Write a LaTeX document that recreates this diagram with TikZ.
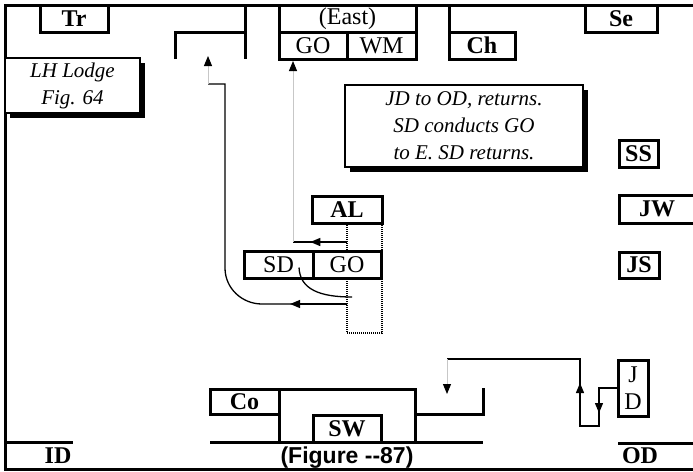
\documentclass[tikz,border=0pt]{standalone}
\usepackage{fontspec}
\setmainfont{Liberation Serif}
\setsansfont{Liberation Sans}
\usetikzlibrary{positioning,arrows.meta,calc,shadows}
\tikzset{
  lodge/.style={x=1pt,y=-1pt,>={Triangle[width=8pt,length=10pt]},
    every node/.style={inner sep=0pt,outer sep=0pt}},
  lbl/.style={draw,line width=3pt,fill=white,minimum height=27pt,
    font=\fontsize{24}{27}\selectfont\bfseries},
  plain/.style={lbl,font=\fontsize{24}{27}\selectfont},
  note/.style={draw,line width=2pt,fill=white,align=center,
    general shadow={fill=black,shadow xshift=5pt,shadow yshift=-5pt},
    font=\fontsize{21}{27}\selectfont\itshape},
  wall/.style={line width=3pt},
  flow/.style={line width=1.3pt},
  ghost/.style={line width=1pt,draw=black!22,
    -{Triangle[width=8pt,length=10pt,color=black]}},
  dotbox/.style={line width=2pt,dash pattern=on 1pt off 1pt},
}

\begin{document}
\begin{tikzpicture}[lodge]
  \useasboundingbox (0,0) rectangle (693,471);
  % walls
  \draw[wall] (693,5) -- (5,5) -- (5,469) -- (693,469);
  \draw[wall] (175,59) -- (175,32) -- (245,32);
  \draw[wall] (245,5) -- (245,59);
  \draw[wall] (449,5) -- (449,32);

  % east
  \node[lbl,minimum width=68pt] (tr) at (74,18.5) {Tr};
  \node[lbl,minimum width=72pt] (se) at (621,18.5) {Se};
  \node[plain,minimum width=137pt] (east) at (347.5,18.5) {(East)};
  \node[plain,minimum width=68pt] (gotop) at (313,45.5) {GO};
  \node[plain,minimum width=69pt] (wm) [right=0pt of gotop] {WM};
  \node[lbl,minimum width=66pt] (ch) at (482,45.5) {Ch};

  \node[note,minimum width=135pt,minimum height=55pt] (lh) at (72.5,85.5)
    {LH Lodge\\Fig. 64};
  \node[note,minimum width=238pt,minimum height=82pt] (notes) at (464,126)
    {JD to OD, returns.\\SD conducts GO\\to E. SD returns.};

  % south side
  \node[lbl,minimum width=39pt] (ss) at (638.5,153.5) {SS};
  \node[lbl,minimum width=76pt,minimum height=28pt] (jw) at (657,209) {JW};
  \node[lbl,minimum width=40pt,minimum height=26pt] (js) at (639,265) {JS};

  % altar and candidate
  \node[lbl,minimum width=70pt] (al) at (347,209.5) {AL};
  \draw[dotbox] (al.south) -- ++(0,110) -| (al.south east);
  \node[plain,minimum width=69pt] (sd) at (278.5,264.5) {SD};
  \node[plain,minimum width=68pt] (go) [right=0pt of sd] {GO};

  \coordinate (a1) at (347,242);
  \coordinate (a2) at (293,242);
  \draw[flow] (a1) -- (a2);
  \draw[flow,->] (a1) -- ($(a1)!0.68!(a2)$);
  \draw[ghost,shorten >=2pt] (a2) -- (a2 |- gotop.south);

  \coordinate (b1) at (347,304);
  \coordinate (b2) at (225,84);
  \coordinate (b3) at (208,84);
  \draw[flow] (b1) -- (262,304) to[out=180,in=-90] (225,268) -- (b2) -- (b3);
  \draw[flow,->] (b1) -- ($(b1)!0.67!(262,304)$);
  \draw[ghost] (b3) -- (208,56);

  \coordinate (c1) at (352,297);
  \draw[flow] ($(sd.east)+(-14,3)$) .. controls +(1,22) and +(-32,0) .. (c1);

  % west
  \node[lbl,minimum width=69pt,minimum height=25pt] (co) at (244.5,401.5) {Co};
  \draw[wall] (co.south east |- 0,442) -- (co.north east) -- (415,389) -- (415,442);
  \draw[wall] (415,414) -- (483,414) -- (483,388);
  \node[lbl,minimum width=68pt] (sw) at (347,428.5) {SW};
  \draw[wall] (co.south west |- 0,442) -- (483,442);

  \draw[wall] (5,442) -- (73,442);
  \node[font=\fontsize{24}{27}\selectfont\bfseries] (id) at (58,456) {ID};
  \draw[wall] (618,443) -- (693,443);
  \node[font=\fontsize{24}{27}\selectfont\bfseries] (od) at (640,456) {OD};
  \node[font=\fontsize{23}{27}\selectfont\sffamily\bfseries] (fig) at (347,458)
    {(Figure {-}{-}87)};

  % junior deacon
  \node[plain,align=center,minimum width=30pt,minimum height=56pt] (jd) at (633,388)
    {J\\D};
  \coordinate (j1) at (599,388);
  \coordinate (j2) at (599,426);
  \coordinate (j3) at (580,426);
  \coordinate (j4) at (580,359);
  \coordinate (j5) at (447,359);
  \draw[flow] (jd.west) -- (j1) -- (j2) -- (j3) -- (j4) -- (j5);
  \draw[flow,->] (j1) -- (599,413);
  \draw[flow,->] (j3) -- (580,383);
  \draw[ghost] (j5) -- (447,394);
\end{tikzpicture}
\end{document}
